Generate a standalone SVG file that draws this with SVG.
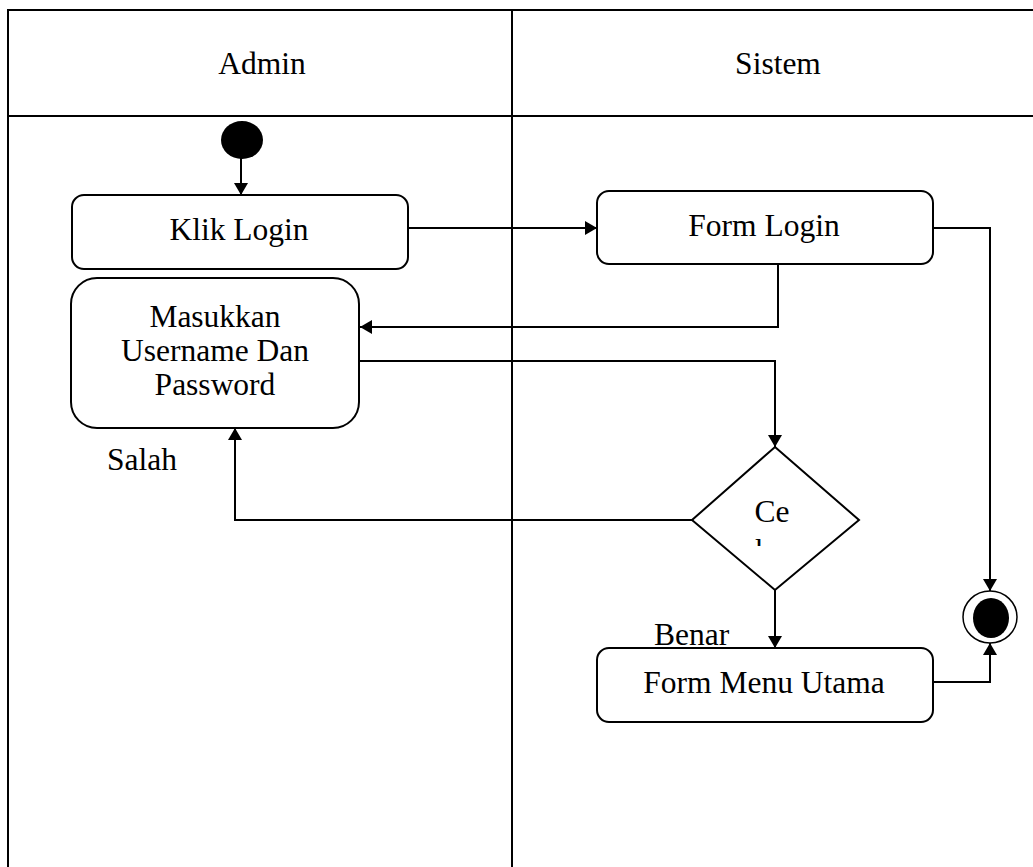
<svg xmlns="http://www.w3.org/2000/svg" width="1033" height="867" viewBox="0 0 1033 867">
<style>
.ln{fill:none;stroke:#000;stroke-width:2}
.bx{fill:#fff;stroke:#000;stroke-width:2}
.t{font-family:"Liberation Serif","Times New Roman",serif;font-size:31.5px;fill:#000}
.c{text-anchor:middle}
</style>
<defs>
<marker id="ah" viewBox="0 0 12 14" refX="12" refY="7" markerWidth="12" markerHeight="14" markerUnits="userSpaceOnUse" orient="auto">
<path d="M0,0 L12,7 L0,14 Z" fill="#000"/>
</marker>
<clipPath id="kclip"><rect x="740" y="530" width="40" height="16"/></clipPath>
</defs>
<g id="swimlanes">
<path class="ln" d="M8,867 V10 H1033"/>
<path class="ln" d="M8,116 H1033"/>
<path class="ln" d="M512,10 V867"/>
<text class="t c" x="262" y="74">Admin</text>
<text class="t c" x="778" y="74">Sistem</text>
</g>
<g id="connectors">
<path class="ln" d="M241,158 V195" marker-end="url(#ah)"/>
<path class="ln" d="M408,228 H597" marker-end="url(#ah)"/>
<path class="ln" d="M778,264 V327 H360" marker-end="url(#ah)"/>
<path class="ln" d="M359,361 H775 V447" marker-end="url(#ah)"/>
<path class="ln" d="M692,520 H235 V428" marker-end="url(#ah)"/>
<path class="ln" d="M775,590 V648" marker-end="url(#ah)"/>
<path class="ln" d="M933,228 H990 V591" marker-end="url(#ah)"/>
<path class="ln" d="M933,682 H990 V643" marker-end="url(#ah)"/>
<text class="t" x="107" y="470">Salah</text>
<text class="t" x="654" y="645">Benar</text>
</g>
<g id="start">
<ellipse cx="242" cy="140" rx="21" ry="19" fill="#000"/>
</g>
<g id="klik-login">
<rect class="bx" x="72" y="195" width="336" height="74" rx="12"/>
<text class="t c" x="239" y="240">Klik Login</text>
</g>
<g id="form-login">
<rect class="bx" x="597" y="191" width="336" height="73" rx="12"/>
<text class="t c" x="764" y="236">Form Login</text>
</g>
<g id="masukkan">
<rect class="bx" x="71" y="278" width="288" height="150" rx="26"/>
<text class="t c" x="215" y="327">Masukkan</text>
<text class="t c" x="215" y="361">Username Dan</text>
<text class="t c" x="215" y="395">Password</text>
</g>
<g id="cek">
<path class="bx" d="M775,447 L859,520 L775,590 L692,520 Z"/>
<text class="t c" x="772" y="522">Ce</text>
<text class="t" x="755" y="561" clip-path="url(#kclip)">k</text>
</g>
<g id="form-menu-utama">
<rect class="bx" x="597" y="648" width="336" height="74" rx="12"/>
<text class="t c" x="764" y="693">Form Menu Utama</text>
</g>
<g id="end">
<ellipse cx="990" cy="617" rx="27" ry="26" fill="#fff" stroke="#000" stroke-width="1.5"/>
<ellipse cx="991" cy="618" rx="18" ry="20" fill="#000"/>
</g>
</svg>
